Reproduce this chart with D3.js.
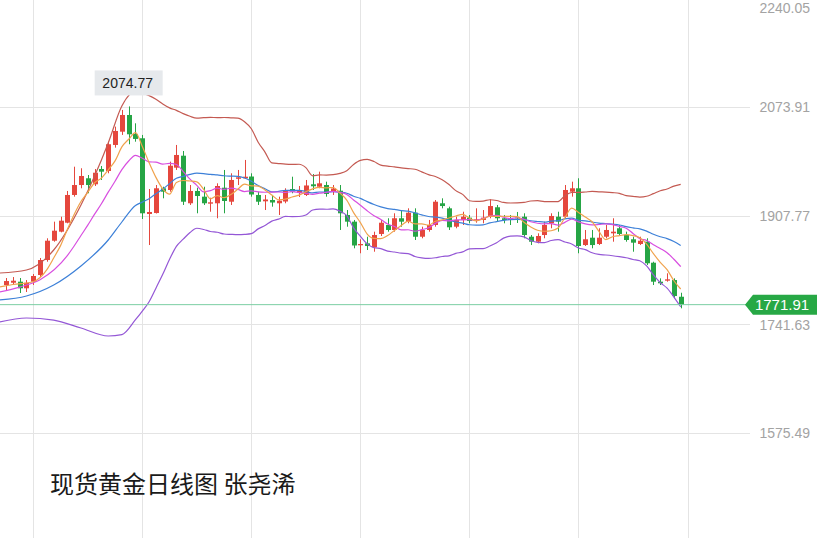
<!DOCTYPE html>
<html><head><meta charset="utf-8">
<script src="https://cdn.jsdelivr.net/npm/d3@7"></script>
<style>html,body{margin:0;padding:0;background:#fff;overflow:hidden}</style>
</head><body><svg id="c" width="817" height="538"></svg>
<script>
// ---- data (daily candles) ----
const openP  = [1801.9,1805.4,1807.0,1796.9,1807.0,1817.2,1840.1,1869.6,1883.4,1897.1,
 1939.5,1954.7,1965.0,1955.8,1979.2,1976.1,2015.9,2036.2,2061.7,2032.7,
 2026.1,1910.4,1911.9,1949.7,1947.1,1981.2,1999.5,1926.8,1945.6,1936.9,
 1926.2,1926.8,1950.6,1929.2,1964.2,1965.0,1967.7,1939.5,1929.8,1931.8,
 1926.8,1929.5,1948.6,1942.5,1939.5,1955.8,1952.1,1954.7,1944.8,1946.0,
 1908.9,1898.7,1862.6,1865.6,1859.5,1879.9,1893.6,1886.0,1903.9,1898.7,
 1912.4,1875.7,1886.0,1893.6,1926.8,1919.1,1891.0,1901.3,1904.8,1899.7,
 1901.3,1906.3,1920.7,1903.9,1903.9,1905.1,1906.3,1875.7,1868.1,1878.3,
 1896.2,1906.3,1906.3,1944.5,1949.7,1863.0,1874.2,1864.6,1875.7,1880.9,
 1888.6,1878.3,1871.8,1864.6,1868.1,1836.0,1807.0,1808.5,1809.5,1784.0];
const highP  = [1812.6,1814.1,1812.6,1809.5,1818.7,1843.2,1873.3,1898.7,1906.3,1945.6,
 1982.7,1980.3,1970.0,1979.2,1983.8,2020.9,2043.9,2069.4,2074.77,2049.0,
 2031.2,1948.6,1954.7,1952.1,1990.4,2015.9,2006.7,1954.7,1950.6,1952.1,
 1935.3,1957.3,1977.7,1972.6,1977.7,1993.0,1972.6,1944.5,1939.5,1939.5,
 1936.9,1949.7,1967.4,1953.2,1962.4,1971.5,1975.1,1959.8,1954.7,1954.7,
 1916.5,1901.3,1871.8,1875.7,1883.4,1901.3,1903.9,1911.5,1916.5,1919.1,
 1919.1,1891.0,1901.3,1931.8,1934.4,1921.6,1906.3,1913.9,1908.9,1919.1,
 1916.5,1932.9,1924.2,1908.9,1908.9,1913.5,1911.5,1878.3,1880.9,1898.7,
 1911.5,1913.9,1954.7,1959.8,1965.0,1886.0,1886.0,1888.6,1893.6,1903.9,
 1893.6,1883.4,1875.7,1875.7,1873.3,1837.5,1812.1,1819.8,1812.1,1790.1];
const lowP   = [1794.3,1801.9,1789.7,1791.2,1801.9,1814.1,1837.5,1868.1,1882.4,1896.2,
 1936.9,1949.7,1942.1,1953.2,1962.4,1972.6,2011.8,2031.2,2017.0,2020.9,
 1902.8,1863.0,1911.2,1934.4,1944.5,1977.7,1924.2,1924.2,1911.5,1924.2,
 1913.9,1903.9,1911.5,1924.2,1954.7,1964.7,1936.9,1924.2,1916.5,1921.6,
 1908.9,1926.8,1942.1,1936.4,1937.9,1947.1,1949.7,1936.9,1939.5,1886.0,
 1891.0,1858.0,1850.4,1855.4,1852.8,1876.8,1883.4,1883.4,1891.0,1896.2,
 1870.7,1873.3,1883.4,1891.0,1919.1,1886.0,1888.6,1893.6,1896.2,1897.1,
 1896.2,1903.9,1898.7,1896.2,1893.6,1896.7,1873.3,1863.0,1865.6,1873.3,
 1888.6,1883.4,1903.9,1936.9,1850.4,1861.5,1858.0,1863.0,1873.3,1868.1,
 1876.8,1868.1,1852.8,1863.0,1832.5,1801.9,1801.9,1807.0,1781.6,1766.3];
const closeP = [1808.0,1808.5,1796.9,1805.4,1815.7,1840.1,1869.6,1884.9,1900.2,1939.5,
 1954.7,1968.5,1954.7,1973.5,1975.1,2017.0,2037.3,2061.7,2032.2,2025.1,
 1911.5,1913.5,1949.7,1944.5,1984.2,2000.6,1929.2,1945.6,1937.9,1926.8,
 1928.3,1953.2,1930.3,1962.4,1966.5,1967.4,1940.2,1929.2,1932.6,1928.0,
 1930.7,1945.6,1944.8,1947.1,1954.0,1952.8,1957.3,1941.0,1949.4,1911.5,
 1898.7,1862.3,1864.6,1861.5,1878.3,1897.1,1886.0,1903.9,1898.7,1912.4,
 1875.7,1886.0,1893.6,1929.2,1922.6,1890.1,1901.3,1906.3,1899.7,1902.3,
 1904.8,1922.6,1903.9,1901.3,1901.3,1903.6,1878.3,1868.1,1876.8,1893.6,
 1907.4,1898.7,1947.1,1949.7,1861.5,1871.8,1863.0,1874.2,1886.0,1883.4,
 1879.9,1870.7,1866.6,1869.6,1835.1,1807.0,1804.5,1810.6,1785.1,1771.91];

// indicator values left of the first full window
const bbEarlyIdx   = [-1, 3, 7, 11, 15, 17];
const bbUpperEarly = [1820.2, 1824.8, 1855.4, 1924.2, 2018.9, 2075.5];
const ma20Early    = [1779.0, 1785.1, 1801.9, 1831.0, 1870.7, 1898.2];
const bbLowerEarly = [1745.4, 1751.5, 1748.4, 1736.2, 1724.0, 1726.0];
const ma10EarlyIdx = [-1, 2, 5];
const ma10Early    = [1791.2, 1798.8, 1810.0];
const ma5EarlyIdx  = [-1, 1];
const ma5Early     = [1798.8, 1802.7];

const yTicks   = [2240.05, 2073.91, 1907.77, 1741.63, 1575.49];
const gridIdx  = [4, 20, 36, 52, 68, 84, 100];
const lastPrice = 1771.91;
const titleText = "现货黄金日线图 张尧浠";

// ---- drawing ----
const W = 817, H = 538;
const svg = d3.select("#c");
const x = d3.scaleLinear().domain([0, 99]).range([6, 680.7]);
const y = d3.scaleLinear().domain([1575.49, 2073.91]).range([433.2, 107]);

const UP = "#e5473d", DOWN = "#26a545";

// grid
svg.append("g").selectAll("line").data(gridIdx).join("line")
  .attr("x1", d => Math.round(x(d)) + 0.5).attr("x2", d => Math.round(x(d)) + 0.5)
  .attr("y1", 0).attr("y2", H).attr("stroke", "#e4e4e4").attr("stroke-width", 1);
svg.append("g").selectAll("line").data(yTicks).join("line")
  .attr("x1", 0).attr("x2", 750)
  .attr("y1", d => Math.round(y(d)) + 0.5).attr("y2", d => Math.round(y(d)) + 0.5)
  .attr("stroke", "#e4e4e4").attr("stroke-width", 1);

// y tick labels (the topmost one is nudged inside the frame)
svg.append("g").selectAll("text").data(yTicks).join("text")
  .attr("x", 810).attr("y", d => Math.max(y(d), 8)).attr("dy", "0.36em")
  .attr("text-anchor", "end").attr("fill", "#a3a3a3")
  .style("font", "14px 'Liberation Sans', Arial, sans-serif")
  .text(d => d.toFixed(2));

// indicators
const sma = (n, i) => d3.mean(closeP.slice(i - n + 1, i + 1));
const sd = (n, i) => d3.deviation(closeP.slice(i - n + 1, i + 1)) * Math.sqrt((n - 1) / n);
function series(earlyIdx, earlyVals, start, fn) {
  const pts = earlyIdx.map((i, k) => [i, earlyVals[k]]);
  for (let i = start; i < closeP.length; i++) pts.push([i, fn(i)]);
  return pts;
}
const ma5 = series(ma5EarlyIdx, ma5Early, 4, i => sma(5, i));
const ma10 = series(ma10EarlyIdx, ma10Early, 9, i => sma(10, i));
const ma20 = series(bbEarlyIdx, ma20Early, 19, i => sma(20, i));
const up = series(bbEarlyIdx, bbUpperEarly, 19, i => sma(20, i) + 2 * sd(20, i));
const lo = series(bbEarlyIdx, bbLowerEarly, 19, i => sma(20, i) - 2 * sd(20, i));

// candles
const g = svg.append("g");
const bw = 5;
closeP.forEach((c, i) => {
  const o = openP[i], col = c >= o ? UP : DOWN;
  const cx = Math.round(x(i)) + 0.5;
  g.append("line").attr("x1", cx).attr("x2", cx)
    .attr("y1", y(highP[i])).attr("y2", y(lowP[i]))
    .attr("stroke", col).attr("stroke-width", 1);
  const top = y(Math.max(o, c)), bot = y(Math.min(o, c));
  g.append("rect").attr("x", cx - bw / 2).attr("width", bw)
    .attr("y", top).attr("height", Math.max(1, bot - top)).attr("fill", col);
});

const line = d3.line().x(d => x(d[0])).y(d => y(d[1])).curve(d3.curveMonotoneX);
[[up, "#c45a52"], [lo, "#9457d6"], [ma20, "#3d80d8"], [ma10, "#d84fe0"], [ma5, "#f0a24c"]]
  .forEach(([pts, col]) => {
    svg.append("path").attr("d", line(pts)).attr("fill", "none")
      .attr("stroke", col).attr("stroke-width", 1.2);
  });

// highest-high label
const hiIdx = d3.maxIndex(highP);
const hx = x(hiIdx), hy = y(highP[hiIdx]);
svg.append("rect").attr("x", hx - 34).attr("y", hy - 36).attr("width", 68).attr("height", 25)
  .attr("fill", "#e6e9ec");
svg.append("text").attr("x", hx - 1).attr("y", hy - 23).attr("dy", "0.36em")
  .attr("text-anchor", "middle").attr("fill", "#222")
  .style("font", "14px 'Liberation Sans', Arial, sans-serif")
  .text(highP[hiIdx].toFixed(2));

// last price line + tag
const ly = y(lastPrice);
svg.append("line").attr("x1", 0).attr("x2", 746).attr("y1", ly).attr("y2", ly)
  .attr("stroke", "#7ccfa4").attr("stroke-width", 1);
svg.append("path")
  .attr("d", `M745,${ly} L753,${ly - 10} L817,${ly - 10} L817,${ly + 10} L753,${ly + 10} Z`)
  .attr("fill", "#27a845");
svg.append("text").attr("x", 782).attr("y", ly).attr("dy", "0.36em")
  .attr("text-anchor", "middle").attr("fill", "#fff")
  .style("font", "15px 'Liberation Sans', Arial, sans-serif")
  .text(lastPrice.toFixed(2));

// title
svg.append("text").attr("x", 50).attr("y", 493).attr("fill", "#1a1a1a")
  .style("font", "24px 'Noto Sans CJK SC', sans-serif")
  .text(titleText);
</script></body></html>
